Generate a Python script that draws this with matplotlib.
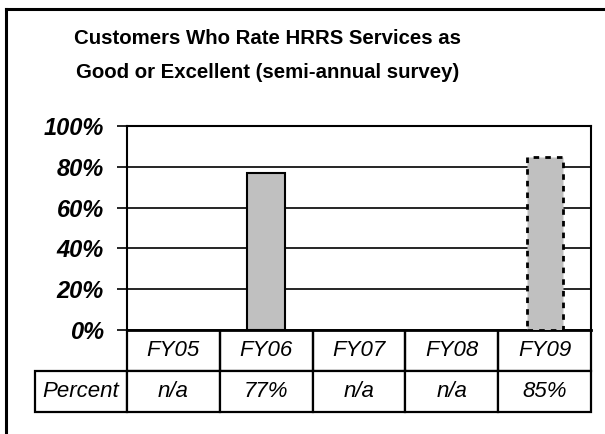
import numpy as np
import matplotlib.pyplot as plt
from matplotlib.lines import Line2D
from matplotlib.ticker import FuncFormatter

years = ['FY05', 'FY06', 'FY07', 'FY08', 'FY09']
percent = [np.nan, 77, np.nan, np.nan, 85]
row_label = 'Percent'
title_lines = ['Customers Who Rate HRRS Services as',
               'Good or Excellent (semi-annual survey)']
y_ticks = [0, 20, 40, 60, 80, 100]

plt.rcParams['font.family'] = ['Liberation Sans', 'DejaVu Sans']

W, H = 605, 434
fig = plt.figure(figsize=(W / 100, H / 100), dpi=100)

# frame around the chart (only the left and top edges fall inside the image)
fig.add_artist(Line2D([6 / W, 6 / W], [0, 1 - 9 / H], transform=fig.transFigure, color='black', lw=2.2))
fig.add_artist(Line2D([6 / W, 1], [1 - 9 / H, 1 - 9 / H], transform=fig.transFigure, color='black', lw=2.2))

for i, line in enumerate(title_lines):
    fig.text(268 / W, 1 - (39 + 33 * i) / H, line, ha='center', va='center',
             fontsize=14.7, fontweight='bold')

left, right, top, bottom = 127, 591, 126, 330
ax = fig.add_axes([left / W, 1 - bottom / H, (right - left) / W, (bottom - top) / H])

x = np.arange(len(years))
vals = np.array(percent, dtype=float)
solid = list(range(len(years) - 1))
ax.bar(x[solid], vals[solid], width=0.41, color='#c0c0c0', edgecolor='black', linewidth=1.5, zorder=3)
# latest year drawn with a dotted outline
ax.bar(x[-1:], vals[-1:], width=0.39, color='#c0c0c0', edgecolor='black', linewidth=2,
       linestyle=(0, (2, 2.2)), zorder=3)

ax.set_xlim(-0.5, len(years) - 0.5)
ax.set_ylim(0, 100)
ax.set_yticks(y_ticks)
ax.yaxis.set_major_formatter(FuncFormatter(lambda v, p: f'{v:.0f}%'))
ax.grid(axis='y', color='black', linewidth=1.2, zorder=1)
ax.set_axisbelow(True)
ax.tick_params(axis='y', length=7, width=1.2, pad=9.5)
for lab in ax.get_yticklabels():
    lab.set_fontsize(17)
    lab.set_fontweight('bold')
    lab.set_fontstyle('italic')
    lab.set_verticalalignment('center_baseline')
ax.set_xticks([])
for side, spine in ax.spines.items():
    spine.set_linewidth(1.5 if side != 'bottom' else 2)

# data table under the plot: header row of years, then the percent row
pct_text = ['n/a' if np.isnan(v) else f'{v:.0f}%' for v in vals]
lab_w = (left - 35) / (right - left)
tab_h = (412 - bottom) / (bottom - top)
col_w = 1 / len(years)
tbl = ax.table(cellText=[[''] + years, [row_label] + pct_text],
               colWidths=[lab_w] + [col_w] * len(years),
               bbox=[-lab_w, -tab_h, 1 + lab_w, tab_h], cellLoc='center')
tbl.auto_set_font_size(False)
for (r, c), cell in tbl.get_celld().items():
    cell.set_linewidth(1.6)
    cell.get_text().set_fontsize(16)
    cell.get_text().set_fontstyle('italic')
    if r == 0 and c == 0:
        cell.visible_edges = ''
    elif r == 0:
        cell.visible_edges = 'LRB'

fig.savefig('out.png', dpi=100)
